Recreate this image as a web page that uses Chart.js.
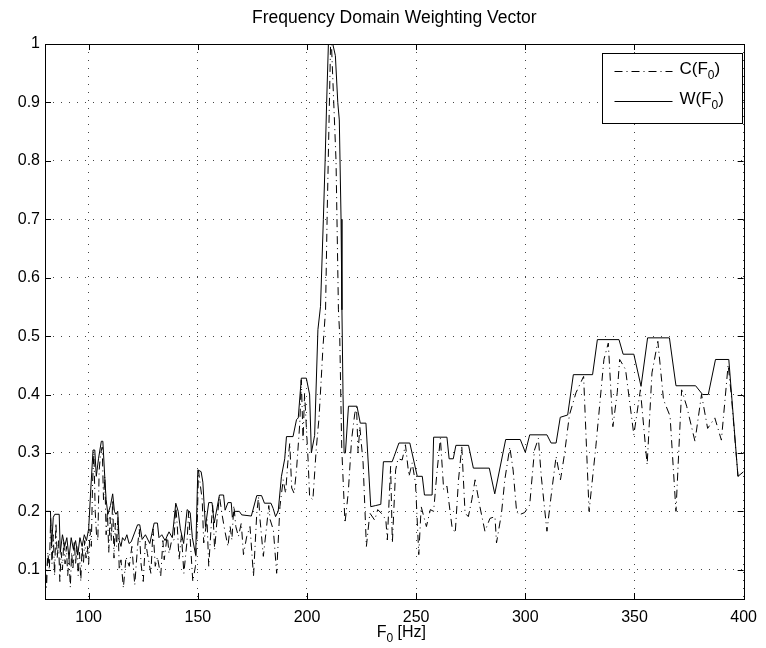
<!DOCTYPE html>
<html>
<head>
<meta charset="utf-8">
<title>Frequency Domain Weighting Vector</title>
<script src="https://cdn.jsdelivr.net/npm/chart.js@4.4.0/dist/chart.umd.min.js"></script>
<style>
  html, body { margin: 0; padding: 0; background: #fff; }
</style>
</head>
<body>
<canvas id="weightChart" width="766" height="648"></canvas>
<script>
// tick positions
var xTicks = [100, 150, 200, 250, 300, 350, 400];
var yTicks = [0.1, 0.2, 0.3, 0.4, 0.5, 0.6, 0.7, 0.8, 0.9, 1];

var chartTitle = 'Frequency Domain Weighting Vector';
var xTitle = 'F0 [Hz]';
var seriesLabels = ['C(F0)', 'W(F0)'];

// W(F0) - solid envelope
var wFreq = [80.0, 82.5, 83.0, 83.8, 84.5, 86.5, 87.0, 88.0, 89.0, 90.0, 91.0, 92.0, 93.0, 94.0, 95.0, 96.0, 97.0, 98.0, 99.0, 100.0,
  101.0, 102.0, 102.8, 103.5, 104.5, 105.8, 106.5, 107.5, 108.0, 108.8, 110.0, 111.0, 111.8, 112.5, 113.3, 114.0, 114.8, 115.5, 116.5, 117.5,
  118.5, 119.5, 121.0, 122.4, 123.4, 124.5, 126.0, 128.0, 130.0, 131.5, 132.2, 133.5, 135.0, 136.8, 138.3, 139.9, 141.0, 142.0, 143.5, 145.1,
  146.5, 147.5, 149.0, 150.0, 151.5, 152.3, 152.8, 153.5, 155.0, 156.5, 157.5, 159.9, 161.8, 162.5, 163.8, 165.3, 165.8, 167.1, 169.0, 170.1,
  174.5, 177.0, 179.2, 180.5, 183.5, 184.5, 185.6, 186.8, 188.3, 189.8, 190.6, 193.6, 195.2, 196.0, 197.4, 199.7, 201.2, 202.0, 203.5, 205.0,
  206.2, 207.5, 208.3, 209.0, 209.8, 211.8, 213.0, 214.1, 214.8, 215.6, 216.0, 216.5, 217.0, 217.6, 219.0, 222.9, 224.4, 227.0, 229.2, 231.5,
  233.8, 235.0, 239.0, 239.9, 242.1, 247.1, 250.5, 252.8, 253.8, 257.3, 258.0, 264.1, 265.1, 267.0, 268.2, 274.0, 276.2, 283.5, 286.0, 291.0,
  297.7, 300.0, 302.0, 309.9, 311.8, 314.1, 316.0, 319.4, 322.0, 330.8, 333.0, 342.9, 344.8, 349.7, 353.0, 356.0, 366.0, 369.0, 378.0, 381.2,
  383.8, 387.1, 393.2, 397.4, 400.0];
var wVals = [0.20, 0.20, 0.14, 0.19, 0.195, 0.195, 0.13, 0.16, 0.14, 0.155, 0.12, 0.155, 0.135, 0.15, 0.125, 0.155, 0.14, 0.16, 0.15, 0.17,
  0.24, 0.305, 0.305, 0.26, 0.29, 0.32, 0.32, 0.25, 0.22, 0.195, 0.21, 0.23, 0.20, 0.195, 0.20, 0.15, 0.14, 0.155, 0.15, 0.16,
  0.145, 0.148, 0.163, 0.177, 0.177, 0.152, 0.16, 0.145, 0.18, 0.18, 0.155, 0.16, 0.15, 0.165, 0.155, 0.214, 0.20, 0.17, 0.145, 0.203,
  0.198, 0.155, 0.125, 0.271, 0.268, 0.25, 0.217, 0.174, 0.215, 0.215, 0.18, 0.228, 0.228, 0.202, 0.215, 0.215, 0.19, 0.20, 0.20, 0.194,
  0.192, 0.227, 0.227, 0.214, 0.214, 0.205, 0.191, 0.20, 0.26, 0.29, 0.328, 0.328, 0.357, 0.36, 0.428, 0.428, 0.40, 0.30, 0.33, 0.511,
  0.551, 0.70, 0.80, 0.90, 1.0, 1.0, 0.98, 0.90, 0.87, 0.70, 0.545, 0.40, 0.30, 0.30, 0.38, 0.38, 0.351, 0.351, 0.208, 0.21,
  0.212, 0.285, 0.285, 0.294, 0.317, 0.317, 0.26, 0.26, 0.228, 0.228, 0.327, 0.327, 0.29, 0.29, 0.313, 0.313, 0.274, 0.274, 0.23, 0.323,
  0.323, 0.301, 0.331, 0.331, 0.317, 0.317, 0.361, 0.365, 0.434, 0.434, 0.494, 0.494, 0.469, 0.469, 0.414, 0.497, 0.497, 0.415, 0.415, 0.40,
  0.40, 0.46, 0.46, 0.26, 0.268];

// C(F0) - dash-dot raw curve
var cFreq = [80.0, 80.7, 81.3, 82.0, 82.6, 83.2, 83.8, 84.4, 85.0, 85.6, 86.2, 86.8, 87.4, 88.0, 88.6, 89.2, 89.8, 90.4, 91.0, 91.6,
  92.2, 92.8, 93.4, 94.0, 94.6, 95.2, 95.8, 96.4, 97.0, 97.6, 98.2, 98.8, 99.4, 100.0, 100.6, 101.2, 101.8, 102.4, 103.0, 103.6,
  104.2, 104.8, 105.5, 106.2, 106.8, 107.4, 108.0, 108.6, 109.2, 109.8, 110.4, 111.0, 111.6, 112.2, 112.8, 113.4, 114.0, 114.8, 115.9, 117.1,
  118.6, 119.8, 121.1, 122.4, 123.2, 124.0, 125.0, 126.0, 126.9, 128.5, 129.5, 130.5, 131.5, 133.0, 134.0, 134.6, 136.0, 136.8, 138.0, 139.1,
  139.9, 140.6, 141.4, 142.5, 143.6, 145.1, 145.8, 146.7, 147.7, 148.9, 149.6, 150.3, 151.2, 152.0, 152.7, 154.2, 155.0, 156.2, 156.8, 157.7,
  158.8, 159.9, 161.0, 162.3, 163.8, 164.8, 165.6, 166.5, 167.4, 168.6, 169.9, 170.9, 172.4, 173.9, 175.5, 177.0, 177.8, 178.5, 180.0, 181.5,
  182.5, 183.1, 184.6, 186.1, 187.6, 189.1, 190.2, 191.2, 192.1, 193.0, 194.1, 195.2, 196.7, 197.4, 198.2, 198.9, 200.5, 201.2, 202.7, 204.2,
  205.5, 206.5, 207.3, 208.5, 209.2, 210.8, 211.2, 213.3, 214.4, 215.0, 215.9, 217.4, 218.9, 220.4, 221.9, 222.7, 223.4, 224.2, 225.7, 227.2,
  228.8, 231.0, 232.4, 234.0, 236.1, 236.8, 238.3, 239.1, 240.6, 241.7, 243.6, 245.1, 246.7, 248.2, 249.7, 251.2, 252.3, 254.7, 256.5, 258.0,
  259.5, 261.1, 262.6, 264.1, 266.4, 267.9, 269.4, 270.9, 272.4, 273.9, 275.5, 277.0, 279.2, 281.5, 283.8, 286.1, 286.8, 289.1, 290.6, 292.9,
  294.4, 296.0, 297.1, 299.7, 302.0, 304.2, 306.0, 307.3, 309.9, 311.8, 314.1, 316.1, 317.9, 320.2, 323.2, 326.7, 329.2, 332.3, 336.0, 338.0,
  340.1, 342.1, 343.2, 345.9, 349.7, 352.7, 355.8, 358.0, 360.7, 363.3, 366.3, 369.0, 371.6, 373.9, 377.7, 380.7, 383.5, 386.8, 389.8, 392.9,
  394.4, 397.4, 400.0];
var cVals = [0.15, 0.07, 0.13, 0.10, 0.19, 0.11, 0.16, 0.09, 0.18, 0.12, 0.15, 0.08, 0.13, 0.10, 0.15, 0.11, 0.14, 0.09, 0.12, 0.07,
  0.13, 0.10, 0.15, 0.11, 0.14, 0.09, 0.13, 0.08, 0.14, 0.11, 0.15, 0.12, 0.14, 0.11, 0.17, 0.14, 0.25, 0.30, 0.20, 0.16,
  0.15, 0.27, 0.30, 0.31, 0.22, 0.26, 0.16, 0.20, 0.13, 0.19, 0.15, 0.22, 0.12, 0.18, 0.14, 0.19, 0.10, 0.117, 0.069, 0.122,
  0.106, 0.14, 0.074, 0.14, 0.17, 0.11, 0.08, 0.15, 0.128, 0.094, 0.17, 0.106, 0.122, 0.089, 0.15, 0.117, 0.16, 0.128, 0.15, 0.151,
  0.21, 0.174, 0.117, 0.16, 0.094, 0.151, 0.20, 0.14, 0.08, 0.106, 0.16, 0.27, 0.243, 0.22, 0.146, 0.186, 0.106, 0.18, 0.21, 0.134,
  0.186, 0.226, 0.197, 0.168, 0.14, 0.174, 0.151, 0.21, 0.174, 0.157, 0.18, 0.126, 0.157, 0.174, 0.089, 0.197, 0.225, 0.186, 0.123, 0.174,
  0.21, 0.186, 0.168, 0.094, 0.208, 0.254, 0.231, 0.283, 0.317, 0.24, 0.231, 0.271, 0.351, 0.425, 0.322, 0.402, 0.288, 0.225, 0.22, 0.305,
  0.36, 0.425, 0.48, 0.545, 0.70, 1.0, 1.0, 0.80, 0.545, 0.50, 0.31, 0.18, 0.232, 0.322, 0.368, 0.378, 0.30, 0.345, 0.283, 0.14,
  0.197, 0.185, 0.203, 0.197, 0.186, 0.151, 0.277, 0.146, 0.271, 0.29, 0.288, 0.314, 0.26, 0.283, 0.248, 0.126, 0.208, 0.174, 0.203, 0.20,
  0.266, 0.325, 0.237, 0.243, 0.174, 0.163, 0.254, 0.311, 0.197, 0.191, 0.22, 0.254, 0.208, 0.166, 0.188, 0.191, 0.146, 0.197, 0.254, 0.31,
  0.271, 0.20, 0.194, 0.198, 0.211, 0.305, 0.325, 0.26, 0.166, 0.226, 0.294, 0.254, 0.297, 0.365, 0.403, 0.431, 0.20, 0.311, 0.46, 0.488,
  0.345, 0.403, 0.46, 0.443, 0.331, 0.408, 0.28, 0.437, 0.491, 0.391, 0.363, 0.20, 0.408, 0.38, 0.32, 0.40, 0.342, 0.36, 0.322, 0.451,
  0.397, 0.26, 0.268];

var FONT = '"Liberation Sans", Arial, Helvetica, sans-serif';
var dashDot = [8, 4, 1, 4];

function toPoints(xs, ys) {
  return xs.map(function (x, i) { return { x: x, y: ys[i] }; });
}

// draws "C(F0)" style text with the digit as a subscript
function drawSubText(ctx, text, x, y, size, align) {
  var parts = text.split(/(\d)/);
  var subSize = Math.round(size * 0.72);
  var total = 0;
  parts.forEach(function (p, i) {
    ctx.font = (i % 2 ? subSize : size) + 'px ' + FONT;
    total += ctx.measureText(p).width;
  });
  var cx = x;
  if (align === 'center') cx = x - total / 2;
  ctx.textAlign = 'left';
  ctx.textBaseline = 'middle';
  parts.forEach(function (p, i) {
    var sub = i % 2 === 1;
    ctx.font = (sub ? subSize : size) + 'px ' + FONT;
    ctx.fillText(p, cx, sub ? y + size * 0.38 : y);
    cx += ctx.measureText(p).width;
  });
}

var matlabFrame = {
  id: 'matlabFrame',
  afterDraw: function (chart) {
    var ctx = chart.ctx;
    var a = chart.chartArea;
    var xs = chart.scales.x, ys = chart.scales.y;
    ctx.save();
    ctx.fillStyle = '#000';
    ctx.strokeStyle = '#000';
    ctx.lineWidth = 1;

    // box
    ctx.strokeRect(Math.round(a.left) + 0.5, Math.round(a.top) + 0.5,
      Math.round(a.right - a.left), Math.round(a.bottom - a.top));

    // inward ticks on all four sides
    var tl = 6;
    ctx.beginPath();
    xTicks.forEach(function (v) {
      var px = Math.round(xs.getPixelForValue(v)) + 0.5;
      ctx.moveTo(px, a.bottom); ctx.lineTo(px, a.bottom - tl);
      ctx.moveTo(px, a.top); ctx.lineTo(px, a.top + tl);
    });
    yTicks.forEach(function (v) {
      var py = Math.round(ys.getPixelForValue(v)) + 0.5;
      ctx.moveTo(a.left, py); ctx.lineTo(a.left + tl, py);
      ctx.moveTo(a.right, py); ctx.lineTo(a.right - tl, py);
    });
    ctx.stroke();

    // title and x label
    ctx.font = '17.5px ' + FONT;
    ctx.textAlign = 'center';
    ctx.textBaseline = 'middle';
    ctx.fillText(chartTitle, (a.left + a.right) / 2, 18);
    drawSubText(ctx, xTitle, (a.left + a.right) / 2 + 7, 633, 16, 'center');

    // legend box
    var bw = 140, bh = 70;
    var bx = Math.round(a.right - bw - 2) + 0.5, by = Math.round(a.top + 9) + 0.5;
    ctx.fillStyle = '#fff';
    ctx.fillRect(bx, by, bw, bh);
    ctx.strokeStyle = '#000';
    ctx.strokeRect(bx, by, bw, bh);
    chart.data.datasets.forEach(function (ds, i) {
      var ry = Math.round(by + 17 + i * 30) + 0.5;
      ctx.beginPath();
      ctx.setLineDash(ds.borderDash || []);
      ctx.moveTo(bx + 12, ry);
      ctx.lineTo(bx + 70, ry);
      ctx.stroke();
      ctx.setLineDash([]);
      ctx.fillStyle = '#000';
      drawSubText(ctx, ds.label, bx + 77, ry - 2, 17, 'left');
    });
    ctx.restore();
  }
};

new Chart(document.getElementById('weightChart'), {
  type: 'line',
  data: {
    datasets: [{
      label: seriesLabels[0],
      data: toPoints(cFreq, cVals),
      borderColor: '#000',
      borderWidth: 1,
      borderDash: dashDot,
      pointRadius: 0,
      tension: 0,
      fill: false
    }, {
      label: seriesLabels[1],
      data: toPoints(wFreq, wVals),
      borderColor: '#000',
      borderWidth: 1,
      pointRadius: 0,
      tension: 0,
      fill: false
    }]
  },
  options: {
    responsive: false,
    animation: false,
    layout: { padding: { top: 44, right: 17, left: 0, bottom: 0 } },
    plugins: {
      legend: { display: false },
      title: { display: false },
      tooltip: { enabled: false }
    },
    scales: {
      x: {
        type: 'linear',
        min: 80,
        max: 400,
        afterBuildTicks: function (s) { s.ticks = xTicks.map(function (v) { return { value: v }; }); },
        afterFit: function (s) { s.height = 49; },
        grid: { color: '#444', lineWidth: 1, drawTicks: false },
        border: { display: false, dash: [1, 7] },
        ticks: {
          color: '#000', padding: 9, maxRotation: 0, autoSkip: false,
          font: { family: FONT, size: 16 }
        }
      },
      y: {
        type: 'linear',
        min: 0.05,
        max: 1,
        afterBuildTicks: function (s) { s.ticks = yTicks.map(function (v) { return { value: v }; }); },
        afterFit: function (s) { s.width = 45; },
        grid: { color: '#444', lineWidth: 1, drawTicks: false },
        border: { display: false, dash: [1, 7] },
        ticks: {
          color: '#000', padding: 5, autoSkip: false,
          font: { family: FONT, size: 16 },
          callback: function (v) { return String(Math.round(v * 10) / 10); }
        }
      }
    }
  },
  plugins: [matlabFrame]
});
</script>
</body>
</html>
